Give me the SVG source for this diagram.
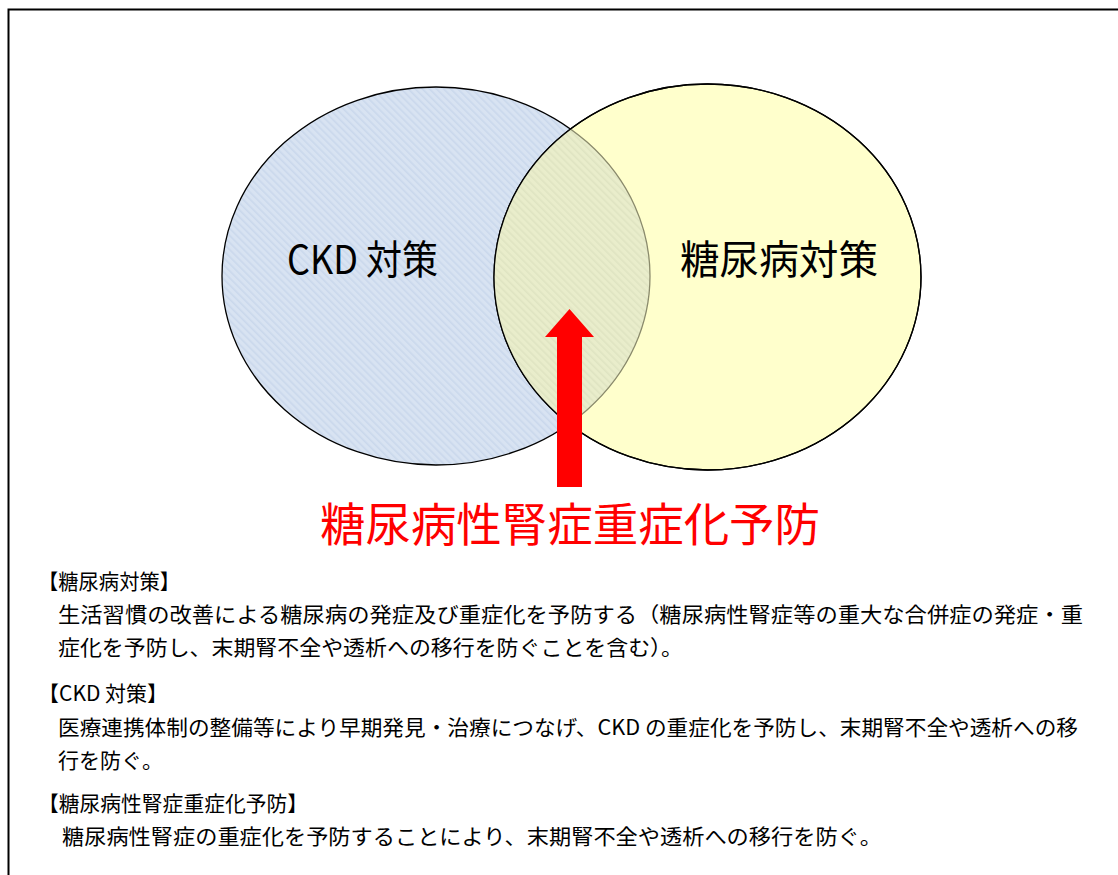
<svg xmlns="http://www.w3.org/2000/svg" width="1118" height="875" viewBox="0 0 1118 875">
<style>
.lbl{font-family:"Noto Sans CJK JP","Noto Sans",sans-serif;fill:#000}
.big{font-size:40px}
.title{font-size:46px;fill:#ff0000}
.body{font-size:21px}
</style>
<defs>
<pattern id="hb" width="5" height="5" patternUnits="userSpaceOnUse" patternTransform="rotate(-45)">
<rect width="5" height="5" fill="#d8e3f2"/>
<rect width="1.6" height="5" fill="#cad8ec"/>
</pattern>
<pattern id="hg" width="5" height="5" patternUnits="userSpaceOnUse" patternTransform="rotate(-45)">
<rect width="5" height="5" fill="#e9edcb"/>
<rect width="1.6" height="5" fill="#dfe4c2"/>
</pattern>
<clipPath id="cb"><ellipse cx="436" cy="276" rx="214" ry="189"/></clipPath>
<clipPath id="cy"><ellipse cx="707.5" cy="277" rx="213.5" ry="193"/></clipPath>
</defs>
<rect width="1118" height="875" fill="#fff"/>
<path d="M8.5,875 V9.5 H1118" fill="none" stroke="#000" stroke-width="2"/>
<g id="ckd">
<ellipse cx="436" cy="276" rx="214" ry="189" fill="url(#hb)" stroke="#000" stroke-width="1.3"/>
</g>
<g id="dm">
<ellipse cx="707.5" cy="277" rx="213.5" ry="193" fill="#ffffcc" stroke="#000" stroke-width="1.3"/>
<ellipse cx="707.5" cy="277" rx="213.5" ry="193" fill="url(#hg)" clip-path="url(#cb)"/>
<ellipse cx="436" cy="276" rx="214" ry="189" fill="none" stroke="#8a8a6c" stroke-width="1.3" clip-path="url(#cy)"/>
<ellipse cx="707.5" cy="277" rx="213.5" ry="193" fill="none" stroke="#000" stroke-width="1.3"/>
</g>
<g id="labels">
<text class="lbl big" x="287" y="274" textLength="151" lengthAdjust="spacingAndGlyphs">CKD 対策</text>
<text class="lbl big" x="680" y="274" textLength="198" lengthAdjust="spacingAndGlyphs">糖尿病対策</text>
</g>
<g id="connectors">
<polygon points="569.5,309 594,337 582,337 582,487 557,487 557,337 545,337" fill="#ff0000"/>
</g>
<g id="prevention">
<text class="lbl title" x="320" y="541" textLength="500" lengthAdjust="spacingAndGlyphs">糖尿病性腎症重症化予防</text>
</g>
<g id="notes">
<text class="lbl body" x="38" y="589" textLength="142" lengthAdjust="spacingAndGlyphs">【糖尿病対策】</text>
<text class="lbl body" x="58" y="622" textLength="1025" lengthAdjust="spacingAndGlyphs">生活習慣の改善による糖尿病の発症及び重症化を予防する（糖尿病性腎症等の重大な合併症の発症・重</text>
<text class="lbl body" x="58" y="655" textLength="625" lengthAdjust="spacingAndGlyphs">症化を予防し、末期腎不全や透析への移行を防ぐことを含む）。</text>
<text class="lbl body" x="38" y="701">【CKD 対策】</text>
<text class="lbl body" x="58" y="735" textLength="1020" lengthAdjust="spacingAndGlyphs">医療連携体制の整備等により早期発見・治療につなげ、CKD の重症化を予防し、末期腎不全や透析への移</text>
<text class="lbl body" x="58" y="768">行を防ぐ。</text>
<text class="lbl body" x="38" y="811" textLength="270" lengthAdjust="spacingAndGlyphs">【糖尿病性腎症重症化予防】</text>
<text class="lbl body" x="62" y="844" textLength="820" lengthAdjust="spacingAndGlyphs">糖尿病性腎症の重症化を予防することにより、末期腎不全や透析への移行を防ぐ。</text>
</g>
</svg>
